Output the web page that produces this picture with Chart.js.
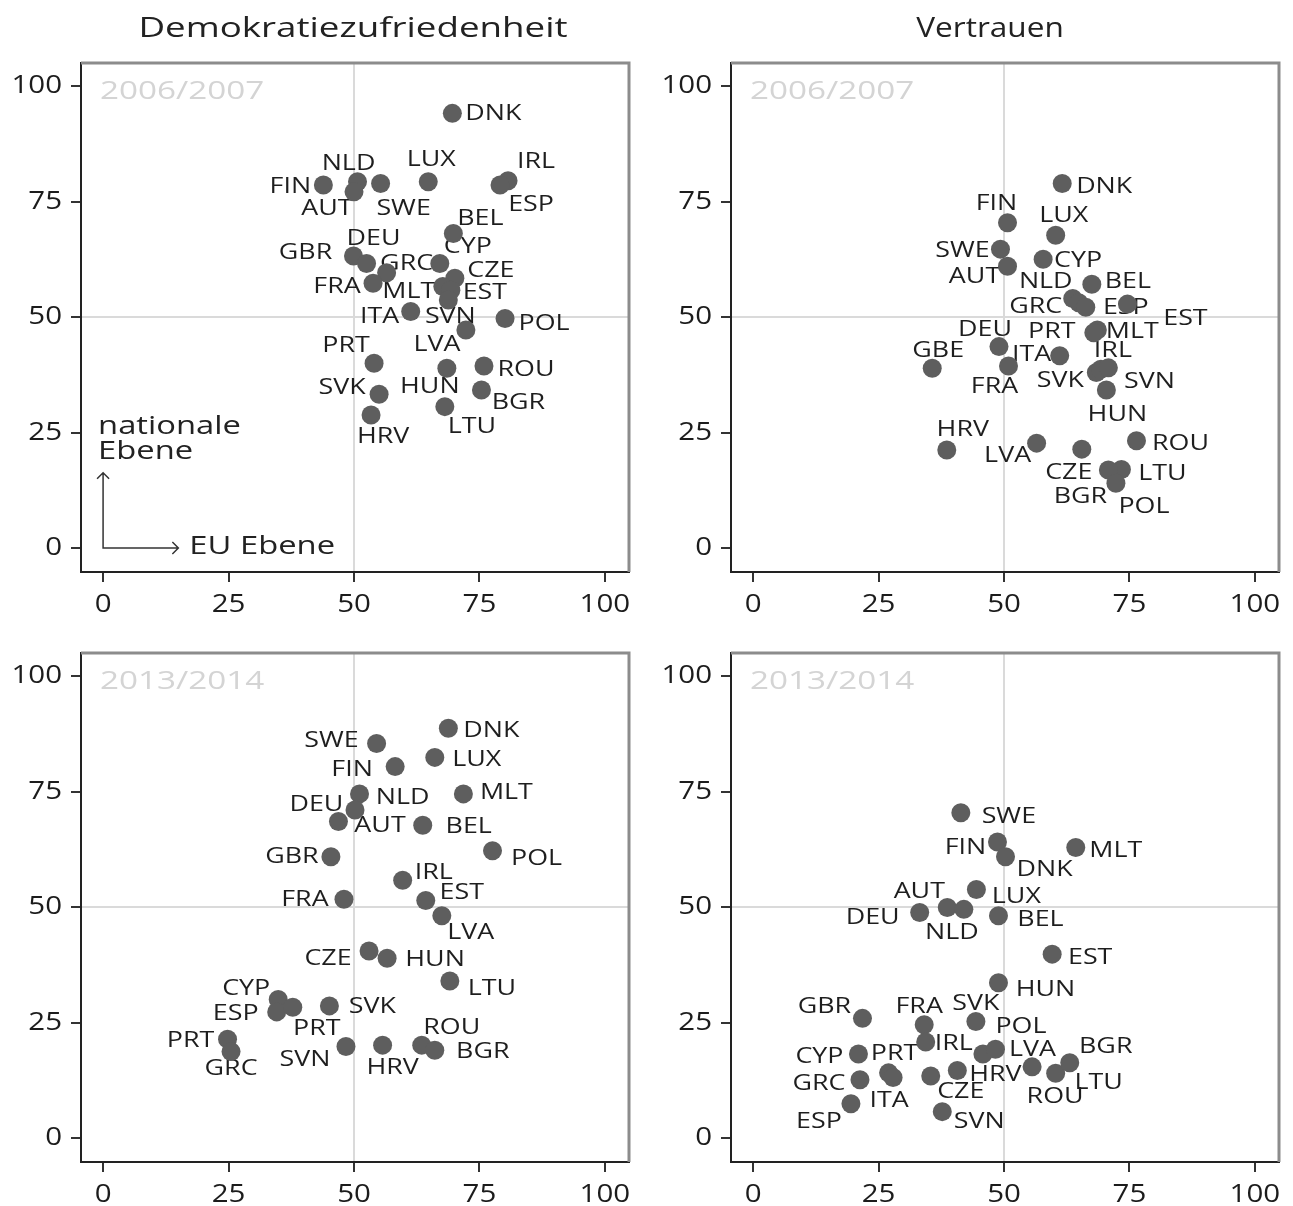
<!DOCTYPE html>
<html>
<head>
<meta charset="utf-8">
<script src="https://cdn.jsdelivr.net/npm/chart.js@4.4.1/dist/chart.umd.min.js"></script>
<style>
  html, body { margin: 0; padding: 0; background: #fff; overflow: hidden; }
  body { width: 1293px; height: 1206px; position: relative; font-family: "Open Sans", sans-serif; }
  .title { position: absolute; top: 8px; font-size: 27px; color: #222; white-space: nowrap; z-index: 2; }
  canvas { position: absolute; }
</style>
</head>
<body>
<div class="title" style="left:353px;transform:translateX(-50%) scaleX(1.36)">Demokratiezufriedenheit</div>
<div class="title" style="left:990px;transform:translateX(-50%) scaleX(1.17)">Vertrauen</div>
<canvas id="c1" width="660" height="616" style="left:0;top:0"></canvas>
<canvas id="c2" width="660" height="616" style="left:650px;top:0"></canvas>
<canvas id="c3" width="660" height="616" style="left:0;top:590px"></canvas>
<canvas id="c4" width="660" height="616" style="left:650px;top:590px"></canvas>
<script>
const tickValues = [0, 25, 50, 75, 100];

// Demokratiezufriedenheit 2006/2007 (x = EU Ebene, y = nationale Ebene)
const demo0607Land = ['DNK','FIN','NLD','AUT','SWE','LUX','IRL','ESP','BEL','CYP','GBR','DEU','GRC','FRA','CZE','MLT','EST','SVN','ITA','POL','LVA','PRT','HUN','ROU','SVK','BGR','HRV','LTU'];
const demo0607Eu  = [69.6, 43.9, 50.7, 50.0, 55.3, 64.8, 80.7, 79.1, 69.8, 67.1, 49.9, 52.5, 56.5, 53.8, 70.1, 67.7, 69.3, 68.8, 61.3, 80.1, 72.3, 54.0, 68.5, 75.9, 55.0, 75.4, 53.4, 68.1];
const demo0607Nat = [94.1, 78.6, 79.3, 77.1, 78.9, 79.3, 79.5, 78.6, 68.1, 61.6, 63.2, 61.6, 59.6, 57.3, 58.4, 56.6, 55.8, 53.7, 51.2, 49.7, 47.2, 40.0, 38.9, 39.4, 33.3, 34.2, 28.8, 30.6];

// Vertrauen 2006/2007
const trust0607Land = ['DNK','FIN','LUX','SWE','AUT','CYP','BEL','NLD','GRC','ESP','EST','MLT','PRT','DEU','GBE','ITA','FRA','SVK','IRL','SVN','HUN','HRV','LVA','ROU','CZE','LTU','BGR','POL'];
const trust0607Eu  = [61.6, 50.7, 60.3, 49.3, 50.7, 57.8, 67.5, 63.7, 64.9, 66.3, 74.6, 68.6, 67.9, 49.0, 35.7, 61.1, 50.9, 68.4, 69.3, 70.8, 70.4, 38.6, 56.5, 76.4, 65.5, 73.4, 70.8, 72.3];
const trust0607Nat = [78.9, 70.4, 67.7, 64.7, 61.0, 62.5, 57.1, 54.0, 53.1, 52.1, 52.8, 47.2, 46.6, 43.6, 38.9, 41.6, 39.4, 38.0, 38.7, 39.0, 34.2, 21.2, 22.7, 23.2, 21.4, 17.0, 16.9, 14.0];

// Demokratiezufriedenheit 2013/2014
const demo1314Land = ['DNK','SWE','LUX','FIN','MLT','NLD','DEU','AUT','BEL','GBR','POL','IRL','FRA','EST','LVA','CZE','HUN','LTU','CYP','ESP','PRT','SVK','PRT','GRC','SVN','HRV','ROU','BGR'];
const demo1314Eu  = [68.8, 54.5, 66.1, 58.2, 71.8, 51.1, 46.9, 50.2, 63.7, 45.4, 77.6, 59.7, 48.0, 64.3, 67.5, 53.0, 56.6, 69.1, 34.9, 34.6, 37.8, 45.1, 24.8, 25.5, 48.4, 55.7, 63.5, 66.1];
const demo1314Nat = [88.7, 85.4, 82.4, 80.4, 74.5, 74.5, 68.5, 71.0, 67.7, 60.9, 62.2, 55.8, 51.7, 51.4, 48.1, 40.5, 38.9, 34.0, 30.0, 27.3, 28.3, 28.6, 21.4, 18.7, 19.8, 20.1, 20.1, 19.0];

// Vertrauen 2013/2014
const trust1314Land = ['SWE','FIN','DNK','MLT','LUX','AUT','NLD','DEU','BEL','EST','HUN','GBR','FRA','SVK','IRL','POL','LVA','CZE','HRV','ROU','LTU','BGR','CYP','PRT','ITA','GRC','ESP','SVN'];
const trust1314Eu  = [41.4, 48.7, 50.3, 64.3, 44.5, 38.7, 42.0, 33.2, 48.9, 59.6, 48.9, 21.8, 34.1, 44.4, 34.4, 45.8, 48.3, 35.4, 40.7, 55.6, 60.3, 63.1, 21.0, 27.0, 27.9, 21.3, 19.5, 37.7];
const trust1314Nat = [70.4, 64.1, 60.9, 62.9, 53.8, 49.9, 49.5, 48.8, 48.1, 39.8, 33.6, 25.9, 24.5, 25.2, 20.8, 18.2, 19.2, 13.4, 14.6, 15.4, 14.0, 16.3, 18.2, 14.1, 13.1, 12.6, 7.4, 5.7];

// label placement (px offset of label centre from its point), same order as the lists above
const demo0607LabelPos = [[41,0],[-33,2],[-9,-18],[-27,17],[23,25],[3,-22],[28,-19],[31,20],[27,-15],[28,-17],[-48,-3],[7,-25],[20,-9],[-36,3],[36,-8],[-34,5],[34,2],[2,17],[-31,5],[39,5],[-29,15],[-28,-17],[-17,18],[42,4],[-37,-6],[37,13],[12,22],[27,20]];
const trust0607LabelPos = [[42,3],[-11,-19],[8,-20],[-38,2],[-33,11],[35,1],[36,-3],[-27,-17],[-43,4],[40,0],[58,15],[35,2],[-42,-1],[-14,-17],[6,-18],[-28,-1],[-14,21],[-36,8],[12,-18],[41,14],[11,25],[16,-20],[-29,13],[44,3],[-13,24],[41,4],[-28,27],[28,23]];
const demo1314LabelPos = [[43,2],[-45,-3],[42,2],[-43,3],[43,-1],[43,4],[-22,-17],[25,16],[46,1],[-39,0],[44,8],[31,-8],[-39,1],[36,-8],[29,17],[-41,8],[48,1],[42,8],[-32,-11],[-41,2],[24,21],[43,1],[-37,2],[0,17],[-41,13],[10,23],[30,-17],[48,2]];
const trust1314LabelPos = [[48,4],[-32,6],[39,13],[40,3],[40,7],[-28,-16],[-12,23],[-47,5],[42,4],[38,4],[47,7],[-38,-12],[-5,-18],[0,-18],[28,2],[38,-27],[37,0],[30,16],[38,4],[23,30],[43,9],[36,-16],[-39,3],[6,-19],[-4,23],[-41,4],[-32,18],[37,10]];

const FONT = '"Open Sans", sans-serif';
const POINT_COLOR = '#5e5e5e';

// the source figure uses a wide typeface; Open Sans is stretched sideways to match
function wideText(ctx, text, x, y, sx) {
  ctx.save();
  ctx.translate(x, y);
  ctx.scale(sx, 1);
  ctx.fillText(text, 0, 0);
  ctx.restore();
}

function axisOptions(isX) {
  return {
    type: 'linear',
    min: isX ? -4.4 : -5.2,
    max: isX ? 104.8 : 105,
    afterBuildTicks: s => { s.ticks = tickValues.map(v => ({ value: v })); },
    afterFit: s => { if (isX) s.height = 44; else s.width = 81; },
    ticks: { display: false },
    grid: {
      color: c => (c.tick && c.tick.value === 50) ? '#dadada' : 'rgba(0,0,0,0)',
      lineWidth: 2,
      tickColor: '#333',
      tickLength: 10,
      tickWidth: 2
    },
    border: { color: '#222', width: 2 }
  };
}

// grey top/right frame edge and the tick labels
const framePlugin = {
  id: 'frame',
  afterDraw(chart) {
    const { ctx, chartArea: a, scales } = chart;
    ctx.save();
    ctx.strokeStyle = '#8c8c8c';
    ctx.lineWidth = 3;
    ctx.beginPath();
    ctx.moveTo(a.left, a.top);
    ctx.lineTo(a.right, a.top);
    ctx.lineTo(a.right, a.bottom);
    ctx.stroke();

    ctx.font = '25px ' + FONT;
    ctx.fillStyle = '#1c1c1c';
    ctx.textBaseline = 'middle';
    ctx.textAlign = 'center';
    tickValues.forEach(v => {
      wideText(ctx, String(v), scales.x.getPixelForValue(v), a.bottom + 33, 1.18);
    });
    ctx.textAlign = 'right';
    tickValues.forEach(v => {
      wideText(ctx, String(v), a.left - 19, scales.y.getPixelForValue(v), 1.18);
    });
    ctx.restore();
  }
};

function makePanel(canvasId, land, eu, nat, labelPos, yearText, withGuide) {
  const points = eu.map((x, i) => ({ x: x, y: nat[i] }));

  const labelPlugin = {
    id: 'labels',
    beforeDatasetsDraw(chart) {
      const { ctx, chartArea: a, scales } = chart;
      ctx.save();
      ctx.font = '25px ' + FONT;
      ctx.fillStyle = '#d4d4d4';
      ctx.textAlign = 'left';
      ctx.textBaseline = 'middle';
      wideText(ctx, yearText, a.left + 19, a.top + 29, 1.33);

      if (withGuide) {
        const x0 = scales.x.getPixelForValue(0);
        const y0 = scales.y.getPixelForValue(0);
        const yTop = scales.y.getPixelForValue(16.3);
        const xEnd = scales.x.getPixelForValue(15);
        ctx.strokeStyle = '#333';
        ctx.lineWidth = 1.5;
        ctx.beginPath();
        ctx.moveTo(x0, yTop); ctx.lineTo(x0, y0); ctx.lineTo(xEnd, y0);
        ctx.moveTo(x0 - 6, yTop + 6); ctx.lineTo(x0, yTop); ctx.lineTo(x0 + 6, yTop + 6);
        ctx.moveTo(xEnd - 6, y0 - 6); ctx.lineTo(xEnd, y0); ctx.lineTo(xEnd - 6, y0 + 6);
        ctx.stroke();
        ctx.fillStyle = '#222';
        wideText(ctx, 'nationale', x0 - 5, y0 - 121, 1.31);
        wideText(ctx, 'Ebene', x0 - 5, y0 - 96, 1.31);
        wideText(ctx, 'EU Ebene', xEnd + 11, y0 - 1, 1.31);
      }

      ctx.font = '22px ' + FONT;
      ctx.fillStyle = '#1e1e1e';
      ctx.textAlign = 'center';
      const meta = chart.getDatasetMeta(0);
      meta.data.forEach((el, i) => {
        wideText(ctx, land[i], el.x + labelPos[i][0], el.y + labelPos[i][1], 1.22);
      });
      ctx.restore();
    }
  };

  return new Chart(document.getElementById(canvasId).getContext('2d'), {
    type: 'scatter',
    data: {
      datasets: [{
        data: points,
        backgroundColor: POINT_COLOR,
        borderWidth: 0,
        pointRadius: 9.5,
        pointHoverRadius: 9.5
      }]
    },
    options: {
      responsive: false,
      animation: false,
      events: [],
      layout: { padding: { top: 63, right: 31, left: 0, bottom: 0 } },
      plugins: { legend: { display: false }, tooltip: { enabled: false } },
      scales: { x: axisOptions(true), y: axisOptions(false) }
    },
    plugins: [framePlugin, labelPlugin]
  });
}

makePanel('c1', demo0607Land, demo0607Eu, demo0607Nat, demo0607LabelPos, '2006/2007', true);
makePanel('c2', trust0607Land, trust0607Eu, trust0607Nat, trust0607LabelPos, '2006/2007', false);
makePanel('c3', demo1314Land, demo1314Eu, demo1314Nat, demo1314LabelPos, '2013/2014', false);
makePanel('c4', trust1314Land, trust1314Eu, trust1314Nat, trust1314LabelPos, '2013/2014', false);
</script>
</body>
</html>
